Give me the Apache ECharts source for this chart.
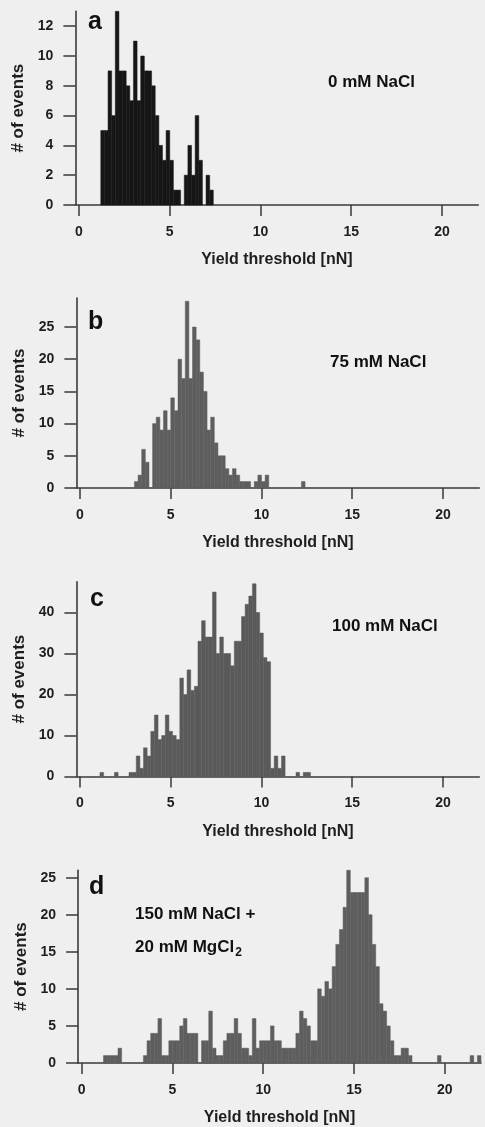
<!DOCTYPE html>
<html><head><meta charset="utf-8">
<script src="https://cdn.jsdelivr.net/npm/echarts@6/dist/echarts.min.js"></script>
<style>html,body{margin:0;padding:0;background:#efefef}#c{width:485px;height:1127px}</style>
</head><body><div id="c"></div>
<script>
// ---- data (bin width 0.2 nN, counts per bin) ----
const binWidth = 0.2;
const aStart = 1.2;
const aCounts = [5,5,9,6,13,9,9,8,7,11,7,10,9,9,8,6,4,3,5,3,1,1,0,2,4,2,6,3,0,2,1];
const bStart = 3.0;
const bCounts = [1,2,6,4,0,10,11,9,12,9,14,12,20,17,29,17,25,23,18,15,9,11,7,5,5,3,2,3,2,1,1,1,0,1,2,1,2,0,0,0,0,0,0,0,0,0,1];
const cStart = 1.1;
const cCounts = [1,0,0,0,1,0,0,0,1,1,5,2,7,5,11,15,9,10,15,11,10,9,24,20,26,21,22,33,38,34,34,45,30,34,30,30,27,33,33,39,42,44,47,40,35,29,28,2,5,2,5,0,0,0,1,0,1,1];
const dStart = 1.2;
const dCounts = [1,1,1,1,2,0,0,0,0,0,0,1,3,4,4,6,1,1,3,3,3,5,6,4,4,4,0,3,3,7,2,1,1,3,4,4,6,4,2,2,1,6,2,3,3,3,5,3,3,2,2,2,2,4,7,6,5,3,3,10,9,11,10,13,16,18,21,26,23,23,23,23,25,20,16,13,8,7,5,3,1,1,2,2,1,0,0,0,0,0,0,0,1,0,0,0,0,0,0,0,0,1,0,1];

const xTicks = [0,5,10,15,20];
const aYTicks = [0,2,4,6,8,10,12];
const bYTicks = [0,5,10,15,20,25];
const cYTicks = [0,10,20,30,40];
const dYTicks = [0,5,10,15,20,25];
const panelLetters = ['a','b','c','d'];
const conditionA = '0 mM NaCl';
const conditionB = '75 mM NaCl';
const conditionC = '100 mM NaCl';
const conditionD1 = '150 mM NaCl +';
const conditionD2 = '20 mM MgCl';
const xName = 'Yield threshold [nN]';
const yName = '# of events';

function toPairs(start, counts){
  return counts.map((c,i)=>[+(start + i*binWidth).toFixed(2), c]);
}

const FONT = '"Liberation Sans", Arial, sans-serif';
const pxPerUnit = 18.15;
const panels = [
  {x0:79,  bottom:205,   ymax:13,   yscale:14.9, yTicks:aYTicks, data:toPairs(aStart,aCounts), color:'#161616'},
  {x0:80,  bottom:488,   ymax:29.5, yscale:6.44, yTicks:bYTicks, data:toPairs(bStart,bCounts), color:'#5e5e5e'},
  {x0:80,  bottom:776.5, ymax:47.5, yscale:4.1,  yTicks:cYTicks, data:toPairs(cStart,cCounts), color:'#5a5a5a'},
  {x0:81.7,bottom:1065,  ymax:26,   yscale:7.49, yTicks:dYTicks, data:toPairs(dStart,dCounts), color:'#5e5e5e'}
];
const xMin = -0.2, xMax = 22.0;

const grid=[], xAxis=[], yAxis=[], series=[];
panels.forEach((p,i)=>{
  const h = p.ymax*p.yscale;
  grid.push({left: p.x0 + xMin*pxPerUnit, top: p.bottom - h, width:(xMax-xMin)*pxPerUnit, height:h});
  const axisLine = {show:true, onZero:false, lineStyle:{color:'#3a3a3a', width:1.6}};
  xAxis.push({gridIndex:i, type:'value', min:xMin, max:xMax,
    axisLine, splitLine:{show:false},
    axisTick:{show:true, length:11, customValues:xTicks, lineStyle:{color:'#3a3a3a', width:1.5}},
    axisLabel:{customValues:xTicks, margin:20, fontSize:14, fontWeight:'bold', color:'#1e1e1e', fontFamily:FONT},
    name:xName, nameLocation:'middle', nameGap:47,
    nameTextStyle:{fontSize:16, fontWeight:'bold', color:'#1e1e1e', fontFamily:FONT}});
  yAxis.push({gridIndex:i, type:'value', min:0, max:p.ymax,
    axisLine, splitLine:{show:false},
    axisTick:{show:true, length:12, customValues:p.yTicks, lineStyle:{color:'#3a3a3a', width:1.5}},
    axisLabel:{customValues:p.yTicks, margin:22, fontSize:14, fontWeight:'bold', color:'#1e1e1e', fontFamily:FONT},
    name:yName, nameLocation:'middle', nameGap:39,
    nameTextStyle:{fontSize:17, fontWeight:'bold', color:'#1e1e1e', fontFamily:FONT}});
  series.push({type:'custom', xAxisIndex:i, yAxisIndex:i, data:p.data, clip:false, silent:true,
    itemStyle:{color:p.color},
    renderItem:function(params, api){
      const x = api.value(0), y = api.value(1);
      if (!y) return null;
      const a = api.coord([x, 0]);
      const b = api.coord([x + binWidth, y]);
      return {type:'rect', shape:{x:a[0], y:b[1], width:b[0]-a[0], height:a[1]-b[1]},
        style:{fill:p.color, stroke:p.color, lineWidth:0.5}};
    }});
});

const letterFont = 'bold 25px ' + FONT;
const condFont = 'bold 17px ' + FONT;
const graphic = [
  {type:'text', x:88, y:22, style:{text:panelLetters[0], font:letterFont, fill:'#111', verticalAlign:'middle'}},
  {type:'text', x:88, y:322, style:{text:panelLetters[1], font:letterFont, fill:'#111', verticalAlign:'middle'}},
  {type:'text', x:90, y:599, style:{text:panelLetters[2], font:letterFont, fill:'#111', verticalAlign:'middle'}},
  {type:'text', x:89, y:887, style:{text:panelLetters[3], font:letterFont, fill:'#111', verticalAlign:'middle'}},
  {type:'text', x:328, y:82, style:{text:conditionA, font:condFont, fill:'#111', verticalAlign:'middle'}},
  {type:'text', x:330, y:362, style:{text:conditionB, font:condFont, fill:'#111', verticalAlign:'middle'}},
  {type:'text', x:332, y:626, style:{text:conditionC, font:condFont, fill:'#111', verticalAlign:'middle'}},
  {type:'text', x:135, y:914, style:{text:conditionD1, font:condFont, fill:'#111', verticalAlign:'middle'}},
  {type:'text', x:135, y:947, style:{text:'{t|' + conditionD2 + '}{s|2}', fill:'#111', verticalAlign:'middle',
    rich:{t:{fontSize:17, fontWeight:'bold', fontFamily:FONT, fill:'#111'},
          s:{fontSize:12, fontWeight:'bold', fontFamily:FONT, fill:'#111', padding:[12,0,0,1]}}}}
];

const chart = echarts.init(document.getElementById('c'), null, {renderer:'canvas'});
chart.setOption({backgroundColor:'#efefef', animation:false, grid, xAxis, yAxis, series, graphic});
</script></body></html>
